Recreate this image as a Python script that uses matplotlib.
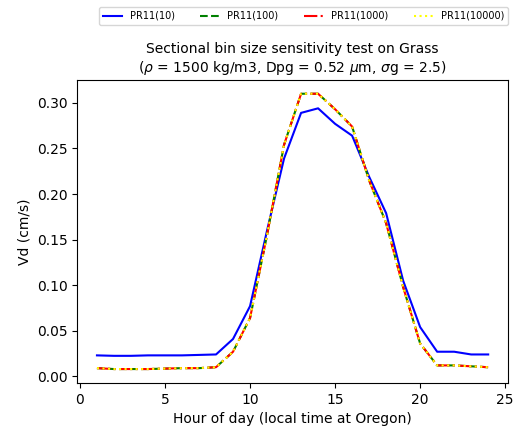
import numpy as np
import matplotlib
matplotlib.use("Agg")
import matplotlib.pyplot as plt

hours = np.arange(1, 25)

# deposition velocity (cm/s) for each sectional bin count
vd_10 = [0.023, 0.0225, 0.0225, 0.023, 0.023, 0.023, 0.0235, 0.024,
         0.041, 0.077, 0.160, 0.239, 0.289, 0.294, 0.277, 0.264,
         0.219, 0.179, 0.105, 0.054, 0.027, 0.027, 0.024, 0.024]
vd_100 = [0.009, 0.008, 0.008, 0.008, 0.0085, 0.009, 0.009, 0.010,
          0.027, 0.064, 0.155, 0.254, 0.310, 0.310, 0.293, 0.274,
          0.215, 0.168, 0.098, 0.036, 0.012, 0.012, 0.011, 0.010]
vd_1000 = list(vd_100)
vd_10000 = list(vd_100)

labels = ["PR11(10)", "PR11(100)", "PR11(1000)", "PR11(10000)"]

fig = plt.figure(figsize=(5.16, 4.37), dpi=100)
ax = fig.add_axes([0.150, 0.124, 0.834, 0.693])

ax.plot(hours, vd_10, color="blue", linestyle="-", lw=1.5, label=labels[0])
ax.plot(hours, vd_100, color="green", linestyle="--", lw=1.5, label=labels[1])
ax.plot(hours, vd_1000, color="red", linestyle="-.", lw=1.5, label=labels[2])
ax.plot(hours, vd_10000, color="yellow", linestyle=":", lw=1.5, label=labels[3])

ax.set_xlabel("Hour of day (local time at Oregon)")
ax.set_ylabel("Vd (cm/s)")
ax.set_title("Sectional bin size sensitivity test on Grass\n"
             r"($\rho$ = 1500 kg/m3, Dpg = 0.52 $\mu$m, $\sigma$g = 2.5)",
             fontsize=10)
ax.set_xticks([0, 5, 10, 15, 20, 25])

fig.legend(loc="upper center", bbox_to_anchor=(0.588, 0.995), ncol=4,
           fontsize=7, columnspacing=2.6, frameon=True)

fig.savefig("out.png", dpi=100)
